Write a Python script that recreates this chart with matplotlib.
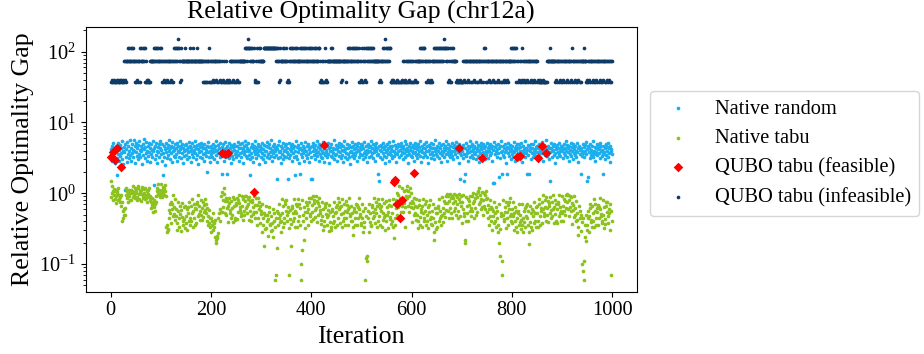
import numpy as np
import matplotlib.pyplot as plt

plt.rcParams['font.family'] = ['Liberation Serif', 'DejaVu Serif']
plt.rcParams['mathtext.fontset'] = 'stix'

# Native random: gap x 10, one value per iteration
native_random_txt = """
42 35 47 29 38 51 33 44 27 11 39 46 31 18 52 36 41 29 48 34 43 37 55 30 40 26 45 38 11 49 33 42 28 53 36 47 31 39 56 35 44 29 50 37 41 33 57 40 27 46
38 52 34 43 30 48 36 55 41 32 47 39 26 44 50 35 42 58 31 45 37 53 29 40 46 34 51 38 43 28 49 36 41 33 55 39 13 44 30 47 35 52 40 27 45 38 49 32 43 54
36 41 29 50 37 18 46 33 42 25 51 38 44 31 48 35 40 56 30 43 37 47 28 53 39 45 34 41 49 32 44 36 52 29 40 47 33 38 55 42 31 46 37 50 27 43 39 34 48 41
35 49 42 30 45 38 53 33 40 47 28 44 36 51 39 32 46 41 37 54 43 30 48 35 42 26 50 38 45 33 40 52 31 47 36 43 29 49 37 44 34 41 20 46 38 53 32 45 39 28
47 36 42 33 50 38 44 30 46 39 55 35 41 28 48 37 43 32 51 40 36 19 45 34 49 29 42 38 53 33 44 19 47 37 40 31 52 35 43 27 48 39 34 45 30 50 41 36 46 38
32 47 40 53 35 43 29 49 37 44 33 51 38 42 27 46 36 55 40 34 48 31 44 39 52 35 41 30 18 45 37 50 33 43 28 47 40 36 54 42 31 45 38 49 35 41 26 46 39 33
44 37 51 30 42 35 48 39 28 46 40 33 53 36 45 31 49 38 43 56 34 41 29 47 37 50 32 44 39 35 45 16 42 31 48 38 54 33 40 27 47 36 43 30 51 39 34 46 41 32
49 38 44 16 36 52 31 42 35 47 40 29 50 37 43 33 46 18 39 55 34 45 30 48 38 42 27 19 44 36 51 32 41 37 47 29 43 39 53 35 40 46 31 49 36 42 28 45 38 33
16 47 16 39 52 35 43 30 48 37 41 34 55 38 45 29 50 36 42 33 47 40 31 53 37 44 28 49 35 41 38 46 32 51 36 43 27 45 40 34 50 39 33 44 37 56 30 42 35 48
36 43 29 47 40 34 52 38 45 31 49 35 41 28 46 39 54 33 42 37 44 30 50 36 43 32 48 38 26 45 40 53 34 47 37 42 31 49 35 44 38 29 46 41 52 33 39 45 36 50
42 35 48 30 44 37 53 39 32 46 36 41 28 50 38 45 33 47 40 55 34 43 37 49 31 42 38 46 29 52 39 35 44 36 19 47 15 41 33 48 40 30 45 37 51 34 42 27 46 38
33 49 41 36 44 29 53 38 47 35 42 31 46 39 55 34 40 48 37 43 28 45 36 50 39 33 47 41 35 52 38 44 30 46 42 37 54 32 40 49 35 43 39 27 47 36 51 41 34 45
40 33 48 37 44 29 52 38 46 35 42 31 49 36 45 39 54 34 41 28 47 38 43 32 50 37 44 35 40 53 33 46 39 27 48 41 36 45 31 51 38 43 35 49 30 44 40 56 36 42
34 47 39 45 31 52 37 43 28 48 40 35 50 38 44 32 46 41 36 55 29 43 38 49 35 42 33 47 40 37 51 34 45 30 48 39 43 36 53 41 32 46 38 44 27 50 37 16 42 35
45 39 31 48 36 15 19 43 52 34 41 37 47 29 44 38 55 33 40 46 35 50 42 31 47 38 43 36 53 30 44 39 48 34 41 28 46 37 51 42 33 45 38 49 36 43 30 47 40 35
52 38 44 31 47 40 35 49 37 43 29 46 41 14 53 14 36 45 39 48 33 42 37 50 44 17 31 47 38 55 19 40 46 35 43 32 49 38 41 27 45 19 37 51 34 44 39 48 30 42
36 47 40 33 53 38 44 29 46 41 35 49 37 43 31 50 39 45 34 52 40 28 47 36 42 38 55 33 44 37 19 41 48 35 46 19 39 43 30 50 37 44 32 49 40 36 54 42 34 45
38 47 31 43 36 50 40 33 46 41 53 37 44 29 48 39 35 45 42 56 34 40 47 36 43 30 15 38 51 44 39 33 46 41 35 49 37 27 45 42 32 48 38 44 36 52 40 34 47 43
39 46 31 42 37 50 35 44 40 55 33 48 38 43 29 47 41 36 52 34 45 39 30 49 37 42 35 46 40 33 51 38 44 28 47 36 41 19 43 39 34 50 37 45 32 48 40 36 53 15
42 17 46 38 44 31 49 35 41 37 47 33 54 40 36 45 29 43 38 50 35 42 48 37 44 31 52 39 46 34 41 36 19 47 38 43 30 49 35 45 40 33 51 37 44 28 46 39 42 36
"""

# Native tabu: gap x 100, one value per iteration
native_tabu_txt = """
150 89 100 125 80 106 115 94 84 109 90 72 101 108 80 118 95 84 88 76 67 94 75 40 56 45 49 60 62 50 119 95 85 106 100 76 112 90 102 81 80 112 106 100 89 125 94 104 85 117
100 112 80 89 125 117 96 84 108 103 110 78 122 98 87 92 114 102 82 118 85 95 106 76 99 110 119 89 92 81 76 61 68 85 54 72 79 64 57 70 90 76 106 118 98 137 112 94 106 88
98 137 110 88 123 103 94 117 130 106 92 33 28 35 30 31 45 58 52 70 38 76 70 60 47 95 51 64 42 82 48 60 30 38 76 56 45 33 65 51 58 29 73 46 36 40 63 43 32 67
38 48 60 30 52 64 76 41 45 35 66 41 52 83 33 56 70 44 36 62 60 38 76 70 47 95 65 51 56 42 49 80 62 42 74 46 55 68 84 58 70 52 41 62 48 36 58 38 44 33
28 44 40 35 30 52 33 38 24 42 22 20 25 23 27 45 52 40 60 55 90 55 105 80 63 118 96 78 52 85 49 62 78 39 66 73 85 53 58 45 78 49 62 88 39 67 83 45 42 72
68 43 86 79 54 95 72 58 64 47 52 92 66 42 83 56 49 77 90 62 90 66 52 83 71 42 88 56 78 48 40 81 75 64 51 90 55 68 44 86 55 69 35 44 87 74 59 38 65 51
57 28 71 45 36 18 53 49 31 66 32 40 50 25 43 54 63 35 37 29 48 30 38 60 24 41 52 33 6 45 7 17 57 52 36 71 45 39 49 28 41 83 52 33 66 44 38 71 77 56
80 50 40 63 54 32 7 43 58 37 18 66 61 52 41 83 45 56 33 71 52 66 33 41 83 70 48 36 62 10 6 16 80 50 40 22 63 54 32 74 44 55 69 35 59 74 87 47 51 41
86 54 68 92 43 73 80 58 46 90 62 39 78 72 49 85 66 53 58 42 37 75 47 30 59 40 34 63 70 51 73 46 36 58 50 29 68 39 54 33 30 60 56 48 38 76 41 52 33 64
55 69 35 44 87 74 59 38 64 51 66 33 83 52 41 45 70 56 36 77 44 55 69 35 59 64 87 47 51 41 66 41 52 26 33 56 62 44 36 71 55 35 69 64 44 87 59 48 51 38
36 71 45 28 57 39 33 62 6 48 12 13 11 57 45 28 71 39 53 34 35 69 64 55 44 87 47 59 38 74 52 66 33 41 83 71 48 36 62 56 67 33 84 53 42 46 72 49 30 78
40 50 63 32 54 68 80 43 46 37 66 41 52 83 33 23 71 44 36 62 80 50 100 93 63 126 86 68 75 54 67 120 85 54 107 72 63 33 112 90 125 85 67 107 91 54 118 72 100 63
39 78 72 62 49 86 53 66 42 83 50 63 32 40 80 68 46 35 59 54 66 33 83 52 41 45 70 56 36 77 40 50 63 32 54 68 80 43 46 37 57 36 45 71 28 22 61 39 31 53
52 33 66 61 41 83 56 44 48 36 49 88 62 39 78 53 46 73 92 58 98 72 57 91 77 45 96 61 85 53 45 91 85 72 57 98 61 77 49 95 70 88 44 56 96 82 74 47 92 66
76 38 95 60 48 52 22 20 41 89 52 65 82 41 69 77 92 56 61 48 91 57 72 100 45 77 86 61 49 96 88 55 105 108 70 118 93 74 83 59 63 105 80 50 101 67 59 95 108 84
87 55 44 69 59 35 81 47 64 41 30 60 56 48 38 76 41 52 33 64 45 57 28 36 71 20 13 31 53 48 7 11 80 50 40 43 63 54 32 74 44 55 69 35 59 74 87 47 51 41
60 38 48 76 30 52 64 41 33 56 45 28 57 53 36 71 49 39 42 31 36 71 45 28 57 39 33 62 66 48 71 45 36 57 19 28 66 39 53 33 30 60 56 48 38 76 41 52 33 64
52 66 33 41 83 71 48 36 62 56 76 38 95 60 48 52 81 64 41 89 49 62 78 39 66 73 88 53 58 45 76 48 60 95 38 64 81 51 41 71 60 38 76 71 48 95 64 52 56 41
52 92 65 41 82 56 49 77 95 61 98 75 60 95 80 47 92 64 88 56 37 73 68 58 46 92 50 62 40 78 42 53 26 33 67 57 45 29 49 39 10 8 45 6 11 36 24 21 50 30
36 45 57 28 48 61 71 39 42 33 66 41 52 83 33 56 70 44 36 62 55 35 69 64 44 87 59 48 51 38 40 80 50 32 63 43 37 67 75 54 76 48 38 60 52 30 70 7 56 41
"""

# QUBO tabu, feasible runs
feasible_iter = [1, 5, 9, 13, 21, 222, 228, 233, 286, 425, 565, 568, 571, 576,
                 580, 604, 694, 740, 811, 816, 853, 861, 868]
feasible_gap = [3.27, 3.88, 2.93, 4.34, 2.38, 3.75, 3.55, 3.7, 1.04, 4.83, 1.45,
                1.54, 0.70, 0.44, 0.80, 1.91, 4.34, 3.18, 3.22, 3.37, 3.18, 4.6, 3.7]

# QUBO tabu, infeasible runs: one level code per iteration ('.' = feasible run)
level_gap = {'a': 37.5, 'A': 40.0, 'b': 75.0, 'c': 112.0, 'd': 150.0}
infeasible_txt = """
a.Aaa.Aaa. aaA.aAaaAa A.aaAababA babbcbbcbb cbbcbcbbba
babAbabbca bcbbcbcbac baAaaAaaba bbbbbbcbcb cbbcbcbbcb
cbababAbab abbAbabbab Ababbabccb cbcbdcbcba cAbbbbbbcb
bbbbbbbbcb bbbbbcbbbb bbcbbbbbbb bbbbbababa bababbcaba
abbabAbabb AbabbabAba ab.Aabaa.b aAa.aAabab babAbabbab
abAbababbb bbbbbbbbcc cbccdccbcb cbcbbc.aAa bacabcbbcb
bbbbbccccc cccccccccc cccccccccc bcbbcabAcb bbbbcbcbbc
babAabacbc bcbbcbbcbc bcbbbbbcbc bcbcbbcbcb cbbcbcbbcb
cbcbbcbcbb cbbcbccaba Ababa.abcA ababbbbbbb cbcbbbbbbb
bbbbbbbbbb abAbbbbbbb abbcbcbbcb bcbcbbcbcb cbcbbcabaA
bacbacbAba cbcbcbccbc bcbcbbbbbb bbbbbbabAa bbbcbcbbdc
bcbcbcbcca aAaaA.aa.a a.Aaaa.aaa .AababaAba babaAbabab
abab.abAba babbbbcbcb cbcbccbbba baAbababaA babbbcbcbc
bcbcbcbcbc bcbcdccccb cbacAbacba cbcbbbbbab aAaa.aAaaa
aababAbabb abbAbabbab babbAbbabb abbabbAbba .babbccbab
babbAbabba bbAbabbabb abbAbabbab babbaAbbab Abbabbbbcb
cbcbcbcbac b.abA.abab AcbabAbaba bAbabbabAb abbabAbabb
abA.aaAaaa a.Aaaaaa.a abbbbbbcbb bbbbbbbabA babbabAbab
abbAbabbab bAbabbabAb cabbabAbba babAbabbab bbbbcbbabA
ababAbabba bAbabbabAb abbabAbabb abAbbababA babAbababb
"""

native_random = np.array(native_random_txt.split(), dtype=float) / 10
native_tabu = np.array(native_tabu_txt.split(), dtype=float) / 100
codes = "".join(infeasible_txt.split())
inf_iter = [i for i, c in enumerate(codes) if c != '.']
inf_gap = [level_gap[c] for c in codes if c != '.']

fig = plt.figure(figsize=(9.24, 3.54), dpi=100)
ax = fig.add_axes([0.0927, 0.176, 0.5963, 0.747])

ax.scatter(np.arange(len(native_random)), native_random, s=7, color='#1AAEEE',
           linewidths=0, label='Native random')
ax.scatter(np.arange(len(native_tabu)), native_tabu, s=7, color='#8CC21E',
           linewidths=0, label='Native tabu')
ax.scatter(feasible_iter, feasible_gap, s=24, marker='D', color='#FF0000',
           linewidths=0, label='QUBO tabu (feasible)')
ax.scatter(inf_iter, inf_gap, s=7, color='#0D3A66', linewidths=0,
           label='QUBO tabu (infeasible)')

ax.set_yscale('log')
ax.set_title('Relative Optimality Gap (chr12a)', fontsize=18.6)
ax.set_xlabel('Iteration', fontsize=18.6)
ax.set_ylabel('Relative Optimality Gap', fontsize=18.6)
ax.tick_params(labelsize=14.7)

ax.legend(loc='center left', bbox_to_anchor=(1.005, 0.523), fontsize=14.7)

fig.savefig('out.png', dpi=100)
